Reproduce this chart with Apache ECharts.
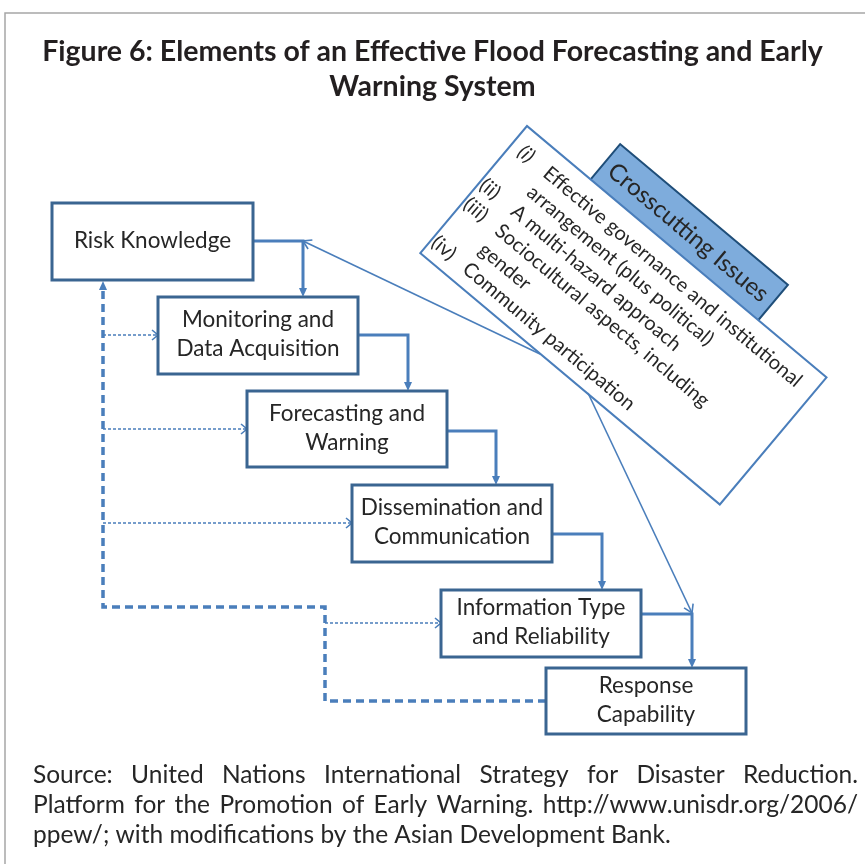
<!DOCTYPE html>
<html>
<head>
<meta charset="utf-8">
<script src="https://cdn.jsdelivr.net/npm/echarts@6/dist/echarts.min.js"></script>
<style>
html, body { margin: 0; background: #fff; }
#main { width: 865px; height: 864px; }
</style>
</head>
<body>
<div id="main"></div>
<script>
var titleText = 'Figure 6: Elements of an Effective Flood Forecasting and Early\nWarning System';
var boxLabels = ['Risk Knowledge', 'Monitoring and\nData Acquisition', 'Forecasting and\nWarning',
  'Dissemination and\nCommunication', 'Information Type\nand Reliability', 'Response\nCapability'];
// box corners [x0, y0, x1, y1] in diagram units
var boxRects = [[52, 203, 253, 280], [158, 297, 358, 374], [247, 391, 447, 467],
  [352, 485, 552, 562], [441, 590, 641, 657], [546, 668, 746, 734]];
var flowLinks = [
  [[253, 241], [303, 241], [303, 297]],
  [[358, 335], [408, 335], [408, 391]],
  [[447, 431], [496, 431], [496, 485]],
  [[552, 534], [602, 534], [602, 590]],
  [[641, 614], [692, 614], [692, 668]]
];
var feedbackLinks = [[[546, 701], [325, 701], [325, 607], [103, 607], [103, 281]]];
var dottedLinks = [[[103, 335], [158, 335]], [[103, 429], [247, 429]], [[103, 523], [352, 523]], [[325, 623], [441, 623]]];
var crossLinks = [[[540, 354], [303, 241]], [[588, 393], [692, 613]]];
var issuesTitle = 'Crosscutting Issues';
var issueMarks = ['(i)', '', '(ii)', '(iii)', '', '(iv)'];
var issueLines = ['Effective governance and institutional', 'arrangement (plus political)', 'A multi-hazard approach',
  'Sociocultural aspects, including', 'gender', 'Community participation'];
var sourceLines = ['Source: United Nations International Strategy for Disaster Reduction.',
  'Platform for the Promotion of Early Warning. http://www.unisdr.org/2006/',
  'ppew/; with modifications by the Asian Development Bank.'];

var blue = '#4a7ebb';
var boxBlue = '#3a6591';
var textColor = '#262626';
var font = 'Lato, "Open Sans", sans-serif';

var myChart = echarts.init(document.getElementById('main'));

function linkSeries(links, lw, dash, head) {
  return {
    type: 'custom',
    coordinateSystem: 'cartesian2d',
    silent: true,
    data: links.map(function (l, i) { return [l[0][0], l[0][1], i]; }),
    encode: { x: 0, y: 1 },
    renderItem: function (params, api) {
      var pts = links[api.value(2)].map(function (p) { return api.coord(p); });
      var a = pts[pts.length - 2], b = pts[pts.length - 1];
      var dx = b[0] - a[0], dy = b[1] - a[1];
      var len = Math.sqrt(dx * dx + dy * dy);
      var ux = dx / len, uy = dy / len;
      var base = [b[0] - ux * head.len, b[1] - uy * head.len];
      var w = head.width / 2;
      var left = [base[0] - uy * w, base[1] + ux * w];
      var right = [base[0] + uy * w, base[1] - ux * w];
      var linePts = pts.slice();
      if (head.filled) {
        linePts[linePts.length - 1] = [b[0] - ux * head.len * 0.6, b[1] - uy * head.len * 0.6];
      }
      var children = [{
        type: 'polyline',
        shape: { points: linePts },
        style: { stroke: blue, lineWidth: lw, lineDash: dash, fill: null, lineJoin: 'miter' }
      }];
      if (head.filled) {
        children.push({ type: 'polygon', shape: { points: [b, left, right] }, style: { fill: blue } });
      } else {
        children.push({ type: 'polyline', shape: { points: [left, b, right] },
          style: { stroke: blue, lineWidth: head.lw, fill: null } });
      }
      return { type: 'group', children: children };
    }
  };
}

var boxSeries = {
  type: 'custom',
  coordinateSystem: 'cartesian2d',
  silent: true,
  data: boxRects.map(function (r, i) { return [r[0], r[1], r[2], r[3], i]; }),
  encode: { x: [0, 2], y: [1, 3] },
  renderItem: function (params, api) {
    var p0 = api.coord([api.value(0), api.value(1)]);
    var p1 = api.coord([api.value(2), api.value(3)]);
    return {
      type: 'group',
      children: [{
        type: 'rect',
        shape: { x: p0[0], y: p0[1], width: p1[0] - p0[0], height: p1[1] - p0[1] },
        style: { fill: '#fff', stroke: boxBlue, lineWidth: 3 }
      }, {
        type: 'text',
        style: {
          text: boxLabels[api.value(4)],
          x: (p0[0] + p1[0]) / 2, y: (p0[1] + p1[1]) / 2 - 1,
          align: 'center', verticalAlign: 'middle',
          fontSize: 22.5, lineHeight: 29, fontFamily: font, fill: textColor
        }
      }]
    };
  }
};

// rotated panel: top corner, rotated 40deg clockwise
var panelSeries = {
  type: 'custom',
  coordinateSystem: 'cartesian2d',
  silent: true,
  data: [[527, 126]],
  renderItem: function (params, api) {
    var o = api.coord([api.value(0), api.value(1)]);
    var kids = [{
      type: 'rect',
      shape: { x: 83, y: -46, width: 219, height: 56 },
      style: { fill: '#7eacdc', stroke: '#1f4e79', lineWidth: 2 }
    }, {
      type: 'text',
      style: { text: issuesTitle, x: 192, y: -22, align: 'center', verticalAlign: 'middle',
        fontSize: 24, fontFamily: font, fill: textColor }
    }, {
      type: 'rect',
      shape: { x: 0, y: 0, width: 391, height: 166 },
      style: { fill: '#fff', stroke: blue, lineWidth: 2 }
    }];
    issueLines.forEach(function (t, i) {
      var y = 22 + i * 25;
      if (issueMarks[i]) {
        kids.push({ type: 'text', style: { text: issueMarks[i], x: i === 0 ? 10 : 2, y: y,
          verticalAlign: 'middle', fontSize: 20, fontFamily: font, fill: textColor,
          fontStyle: i === 0 ? 'italic' : 'normal' } });
      }
      kids.push({ type: 'text', style: { text: t, x: 43, y: y, verticalAlign: 'middle',
        fontSize: 20, fontFamily: font, fill: textColor } });
    });
    return { type: 'group', x: o[0], y: o[1], rotation: -40 * Math.PI / 180, children: kids };
  }
};

// justified source note
var srcFont = '24.5px Lato';
var ctx = document.createElement('canvas').getContext('2d');
ctx.font = srcFont;
var srcGraphics = [];
sourceLines.forEach(function (line, li) {
  var y = 775 + li * 30;
  var words = line.split(' ');
  if (li === sourceLines.length - 1) {
    srcGraphics.push({ type: 'text', x: 33, y: y, style: { text: line, font: srcFont, fill: textColor, verticalAlign: 'middle' } });
    return;
  }
  var total = 0;
  words.forEach(function (w) { total += ctx.measureText(w).width; });
  var gap = (858 - 33 - total) / (words.length - 1);
  var x = 33;
  words.forEach(function (w) {
    srcGraphics.push({ type: 'text', x: x, y: y, style: { text: w, font: srcFont, fill: textColor, verticalAlign: 'middle' } });
    x += ctx.measureText(w).width + gap;
  });
});

myChart.setOption({
  animation: false,
  backgroundColor: '#fff',
  title: {
    text: titleText,
    left: 'center',
    top: 29,
    textStyle: { fontSize: 28.5, fontWeight: 'bold', fontFamily: font, color: '#231f20', lineHeight: 35 }
  },
  grid: { left: 0, right: 0, top: 0, bottom: 0 },
  xAxis: { type: 'value', min: 0, max: 865, show: false },
  yAxis: { type: 'value', min: 0, max: 864, inverse: true, show: false },
  graphic: [{
    type: 'rect', shape: { x: 5, y: 13, width: 900, height: 900 },
    style: { fill: null, stroke: '#a6a6a6', lineWidth: 1.5 }, z: -1
  }].concat(srcGraphics),
  series: [
    panelSeries,
    linkSeries(flowLinks, 3, null, { filled: true, len: 9, width: 8 }),
    linkSeries(feedbackLinks, 3.5, [8, 5], { filled: true, len: 9, width: 8 }),
    linkSeries(dottedLinks, 1.6, [3, 2], { filled: false, len: 6, width: 10, lw: 1.6 }),
    linkSeries(crossLinks, 1.6, null, { filled: false, len: 8, width: 10, lw: 1.6 }),
    boxSeries
  ]
});
</script>
</body>
</html>
